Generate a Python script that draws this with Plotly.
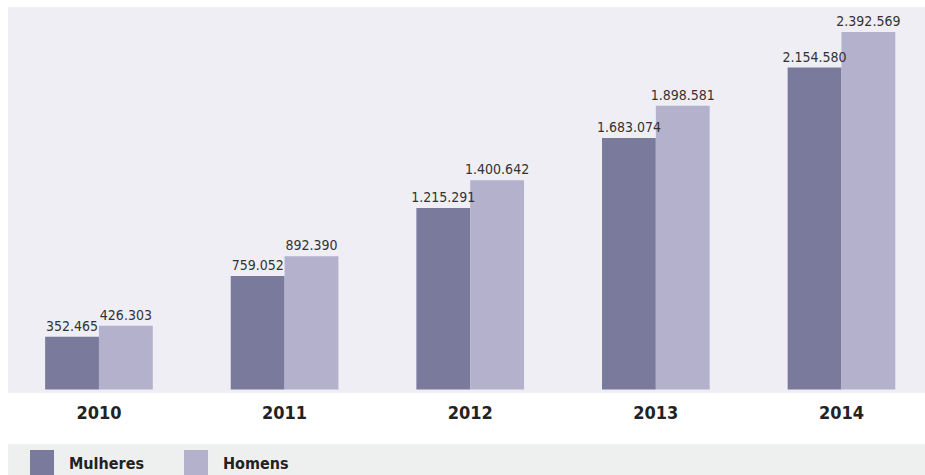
import plotly.graph_objects as go

years = ["2010", "2011", "2012", "2013", "2014"]
mulheres = [352465, 759052, 1215291, 1683074, 2154580]
homens = [426303, 892390, 1400642, 1898581, 2392569]
series_names = ["Mulheres", "Homens"]
colors = ["#7a7b9c", "#b3b1cb"]

FONT = "DejaVu Sans Condensed, Liberation Sans Narrow, Roboto, sans-serif"

def fmt(v):
    return f"{v:,}".replace(",", ".")

fig = go.Figure()
groups = ["m", "h"]
for name, vals, col, g in zip(series_names, [mulheres, homens], colors, groups):
    fig.add_trace(go.Bar(
        x=years, y=vals, name=name, offsetgroup=g,
        marker=dict(color=col, line=dict(width=0)),
    ))
# value labels drawn on top of all bars
for name, vals, g in zip(series_names, [mulheres, homens], groups):
    fig.add_trace(go.Bar(
        x=years, y=vals, name=name + " labels", offsetgroup=g,
        marker=dict(color="rgba(0,0,0,0)", line=dict(width=0)),
        text=[fmt(v) for v in vals], textposition="outside", cliponaxis=False,
        constraintext="none", hoverinfo="skip",
        textfont=dict(family=FONT, size=14, color="#333333"),
    ))

W, H = 925, 475
L, R, T, B = 8, 0, 7, 82
fig.update_layout(
    width=W, height=H,
    margin=dict(l=L, r=R, t=T, b=B, autoexpand=False),
    paper_bgcolor="white", plot_bgcolor="#efeef5",
    barmode="group", bargap=0.42, bargroupgap=0,
    showlegend=False,
    xaxis=dict(range=[-0.49, 4.45], showgrid=False, zeroline=False, showline=False,
               ticks="", tickfont=dict(family=FONT, size=18, color="#222222", weight="bold"),
               ticklabelstandoff=7),
    yaxis=dict(range=[-23500, 2560000], visible=False),
)

pw = W - L - R
ph = H - T - B
def px(x):
    return (x - L) / pw
def py(y):
    return (H - B - y) / ph

# legend band
fig.add_shape(type="rect", xref="paper", yref="paper",
              x0=px(8), x1=1, y0=py(H), y1=py(444),
              fillcolor="#eef0ef", line=dict(width=0), layer="below")

legend_x = [30, 184]
for i, (name, col) in enumerate(zip(series_names, colors)):
    x0 = legend_x[i]
    fig.add_shape(type="rect", xref="paper", yref="paper",
                  x0=px(x0), x1=px(x0 + 24), y0=py(476), y1=py(450),
                  fillcolor=col, line=dict(width=0))
    fig.add_annotation(xref="paper", yref="paper", x=px(x0 + 37), y=py(463),
                       text=name, showarrow=False, xanchor="left", yanchor="middle",
                       font=dict(family=FONT, size=16, color="#222222", weight="bold"))

fig.write_html("out.html", config={"displayModeBar": False},
               post_script="document.body.style.margin='0';document.body.style.overflow='hidden';")
